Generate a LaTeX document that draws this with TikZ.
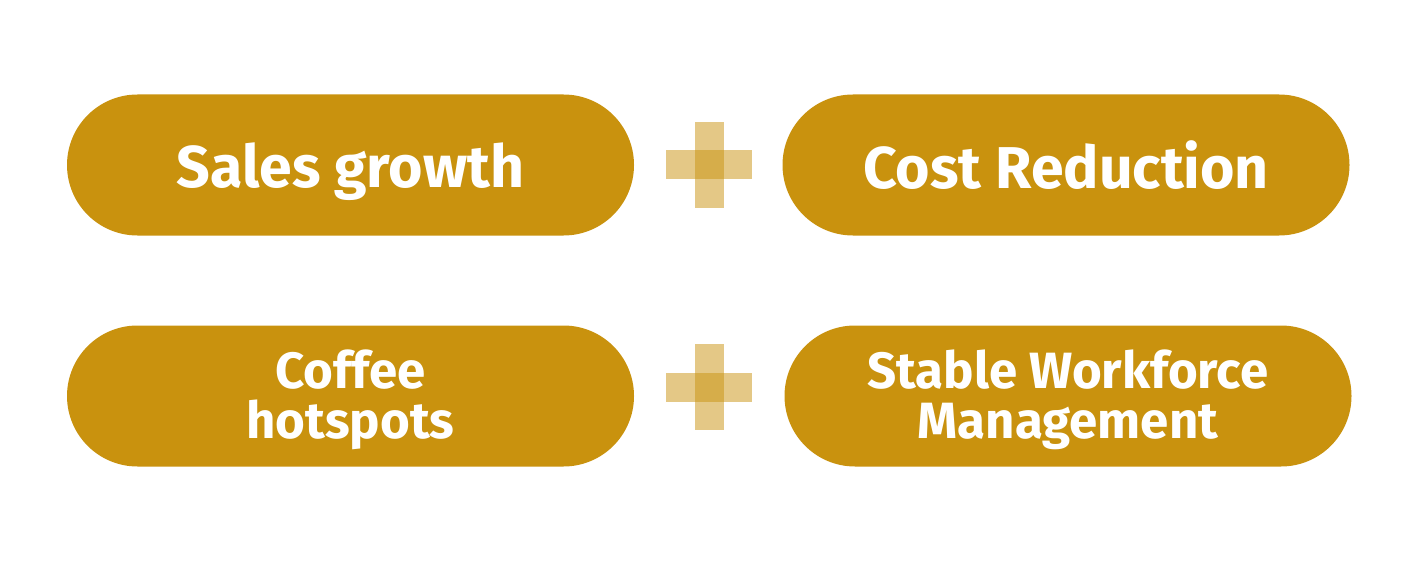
\documentclass[tikz,border=0pt]{standalone}
\usepackage{fontspec}
\setmainfont{Fira Sans}
\definecolor{gold}{HTML}{C9920E}
\begin{document}
\begin{tikzpicture}[x=1pt,y=-1pt,
  pill/.style={fill=gold, rounded corners=70.5pt, minimum width=567pt, minimum height=141pt, inner sep=0pt, text=white, align=center},
  big/.style={font=\bfseries\fontsize{59}{60}\selectfont, text depth=0pt},
  small/.style={font=\bfseries\fontsize{51}{50}\selectfont, text depth=4pt},
  hbar/.style={fill=gold, fill opacity=0.5, minimum width=86pt, minimum height=29pt, inner sep=0pt},
  vbar/.style={fill=gold, fill opacity=0.5, minimum width=29pt, minimum height=86pt, inner sep=0pt}]
\useasboundingbox (0,0) rectangle (1417,567);
\node[pill,big] (sales) at (350.5,165) {Sales growth};
\node[pill,big] (cost) at (1066,165) {Cost Reduction};
\node[pill,small] (coffee) at (350.5,396) {Coffee\\hotspots};
\node[pill,small] (stable) at (1068,396) {Stable Workforce\\Management};
\node[hbar] (p1h) at (709,165) {};
\node[vbar] (p1v) at (709,165) {};
\node[hbar] (p2h) at (709,387) {};
\node[vbar] (p2v) at (709,387) {};
\end{tikzpicture}
\end{document}
